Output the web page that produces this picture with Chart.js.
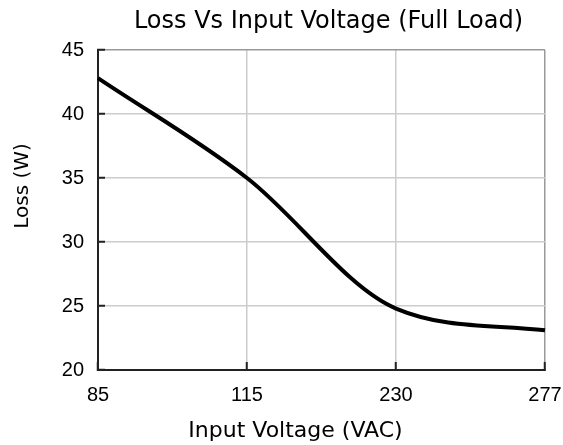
<!DOCTYPE html>
<html>
<head>
<meta charset="utf-8">
<script src="https://cdn.jsdelivr.net/npm/chart.js@4"></script>
<style>
  html, body { margin: 0; padding: 0; background: #ffffff; }
  #wrap { width: 563px; height: 445px; }
</style>
</head>
<body>
<div id="wrap"><canvas id="c" width="563" height="445"></canvas></div>
<script>
const chartTitle = 'Loss Vs Input Voltage (Full Load)';
const xAxisTitle = 'Input Voltage (VAC)';
const yAxisTitle = 'Loss (W)';
const voltages = ['85', '115', '230', '277'];
const lossW = [42.8, 35.0, 24.8, 23.1];
const yMin = 20, yMax = 45, yStep = 5;

const FONT = '"Liberation Sans", Arial, sans-serif';
const TFONT = '"DejaVu Sans", sans-serif';

const titlesPlugin = {
  id: 'titles',
  afterDraw(chart) {
    const ctx = chart.ctx;
    const a = chart.chartArea;
    const cx = (a.left + a.right) / 2;
    ctx.save();
    ctx.fillStyle = '#000';
    ctx.textAlign = 'center';
    ctx.textBaseline = 'alphabetic';
    ctx.font = '24px ' + TFONT;
    ctx.fillText(chartTitle, cx + 7, 28);
    ctx.font = '22px ' + TFONT;
    ctx.fillText(xAxisTitle, cx - 26, 437);
    ctx.font = '20px ' + TFONT;
    ctx.translate(28, (a.top + a.bottom) / 2 - 24);
    ctx.rotate(-Math.PI / 2);
    ctx.fillText(yAxisTitle, 0, 0);
    ctx.restore();
  }
};

new Chart(document.getElementById('c'), {
  type: 'line',
  data: {
    labels: voltages,
    datasets: [{
      data: lossW,
      borderColor: '#000',
      borderWidth: 4,
      pointRadius: 0,
      fill: false,
      cubicInterpolationMode: 'monotone'
    }]
  },
  options: {
    responsive: false,
    animation: false,
    layout: { padding: { left: 0, top: 50, right: 18, bottom: 0 } },
    plugins: { legend: { display: false }, title: { display: false }, tooltip: { enabled: false } },
    scales: {
      x: {
        type: 'category',
        offset: false,
        afterFit(s) { s.height = 75; s.paddingLeft = 0; s.paddingRight = 0; },
        grid: {
          color: (c) => (c.index === voltages.length - 1 ? '#999' : '#cccccc'),
          lineWidth: 1.5,
          tickLength: -8,
          tickColor: '#222',
          tickWidth: 2
        },
        border: { color: '#222', width: 2 },
        ticks: { color: '#000', font: { family: FONT, size: 20 }, padding: 21, maxRotation: 0 }
      },
      y: {
        min: yMin,
        max: yMax,
        afterFit(s) { s.width = 98; s.paddingTop = 0; s.paddingBottom = 0; },
        grid: {
          color: (c) => (c.tick && c.tick.value === yMax ? '#999' : '#cccccc'),
          lineWidth: 1.5,
          tickLength: -7,
          tickColor: '#222',
          tickWidth: 2
        },
        border: { color: '#222', width: 2 },
        ticks: { stepSize: yStep, color: '#000', font: { family: FONT, size: 20 }, padding: 21 }
      }
    }
  },
  plugins: [titlesPlugin]
});
</script>
</body>
</html>
